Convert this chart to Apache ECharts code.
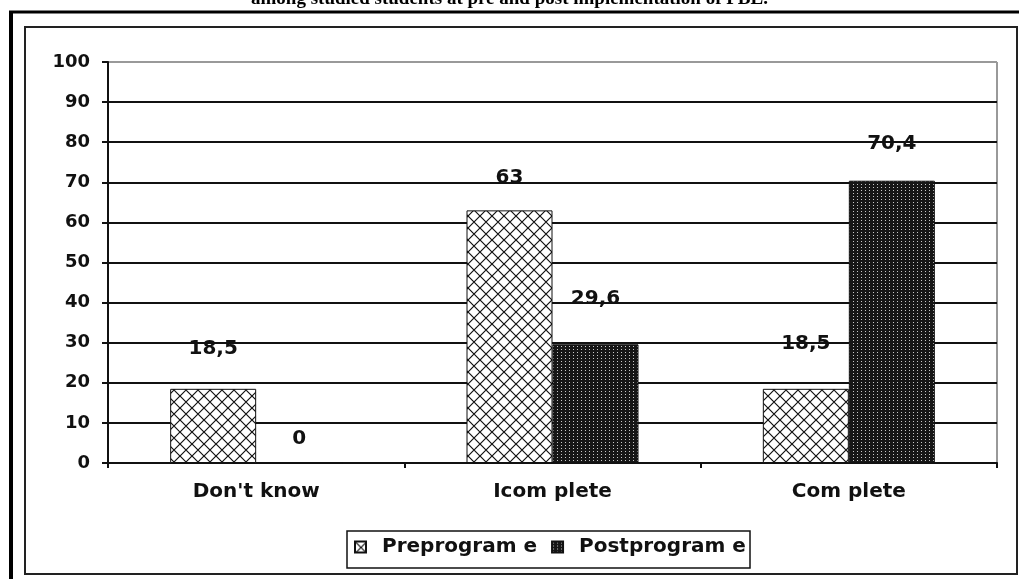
<!DOCTYPE html>
<html>
<head>
<meta charset="utf-8">
<script src="https://cdn.jsdelivr.net/npm/echarts@6/dist/echarts.min.js"></script>
<style>
html,body{margin:0;padding:0;background:#fff;}
#chart{width:1019px;height:579px;}
</style>
</head>
<body>
<div id="chart"></div>
<script>
// ---- data ----
const titleText = "among studied students at pre and post implementation of PBL.";
const categories = ["Don't know", "Icom plete", "Com plete"];
const seriesNames = ["Preprogram e", "Postprogram e"];
const preValues = [18.5, 63, 18.5];
const postValues = [0, 29.6, 70.4];
const yTicks = [0, 10, 20, 30, 40, 50, 60, 70, 80, 90, 100];

// ---- label offsets (style only) ----
const preLabelGap = [30, 23, 35];
const postLabelGap = [14, 36, 27];

function crossPattern() {
  const c = document.createElement('canvas');
  c.width = 12; c.height = 12;
  const g = c.getContext('2d');
  g.fillStyle = '#fff'; g.fillRect(0, 0, 12, 12);
  g.strokeStyle = '#111'; g.lineWidth = 1.2;
  g.beginPath();
  g.moveTo(0, 0); g.lineTo(12, 12);
  g.moveTo(12, 0); g.lineTo(0, 12);
  g.stroke();
  return c;
}
function dotPattern() {
  const c = document.createElement('canvas');
  c.width = 4; c.height = 3;
  const g = c.getContext('2d');
  g.fillStyle = '#161616'; g.fillRect(0, 0, 4, 3);
  g.fillStyle = '#c8c8c8'; g.fillRect(1, 1, 1, 1);
  return c;
}

const FONT = '"DejaVu Sans", sans-serif';
const fmt = p => String(p.value).replace('.', ',');

const chart = echarts.init(document.getElementById('chart'), null, {renderer: 'canvas'});
const splitColors = yTicks.map((t, i) => i === yTicks.length - 1 ? '#999' : '#111');

chart.setOption({
  animation: false,
  backgroundColor: '#fff',
  grid: {left: 108, right: 22, top: 62, bottom: 116, containLabel: false},
  xAxis: {
    type: 'category',
    data: categories,
    axisLine: {show: true, lineStyle: {color: '#111', width: 2}},
    axisTick: {show: true, length: 5, lineStyle: {color: '#111', width: 2}},
    axisLabel: {color: '#111', fontFamily: FONT, fontWeight: 'bold', fontSize: 20, margin: 19}
  },
  yAxis: {
    type: 'value',
    min: yTicks[0], max: yTicks[yTicks.length - 1], interval: 10,
    axisLine: {show: true, lineStyle: {color: '#111', width: 2}},
    axisTick: {show: true, length: 6, lineStyle: {color: '#111', width: 2}},
    axisLabel: {color: '#111', fontFamily: FONT, fontWeight: 'bold', fontSize: 18, margin: 18},
    splitLine: {show: true, lineStyle: {color: splitColors, width: 2}}
  },
  legend: {
    left: 354, top: 537,
    itemWidth: 11, itemHeight: 11, itemGap: 14,
    padding: 0,
    icon: 'rect',
    textStyle: {color: '#111', fontFamily: FONT, fontWeight: 'bold', fontSize: 20, padding: [0, 0, 0, 11]},
    data: seriesNames
  },
  series: [
    {
      name: seriesNames[0], type: 'bar', barWidth: 86, barGap: '0%',
      itemStyle: {color: {image: crossPattern(), repeat: 'repeat'}, borderColor: '#111', borderWidth: 1},
      data: preValues.map((v, i) => ({value: v, label: {distance: preLabelGap[i]}})),
      label: {show: true, position: 'top', color: '#111', fontFamily: FONT, fontWeight: 'bold', fontSize: 20, formatter: fmt}
    },
    {
      name: seriesNames[1], type: 'bar', barWidth: 86, barGap: '0%',
      itemStyle: {color: {image: dotPattern(), repeat: 'repeat'}, borderColor: '#111', borderWidth: 1},
      data: postValues.map((v, i) => ({value: v, label: {distance: postLabelGap[i]}})),
      label: {show: true, position: 'top', color: '#111', fontFamily: FONT, fontWeight: 'bold', fontSize: 20, formatter: fmt}
    }
  ],
  graphic: [
    {type: 'text', left: 'center', top: -10, style: {text: titleText, font: 'bold 19px "Liberation Serif", serif', fill: '#000'}},
    {type: 'rect', shape: {x: 0, y: 0, width: 1019, height: 10}, style: {fill: 'rgba(0,0,0,0)'}},
    {type: 'line', shape: {x1: 11, y1: 11, x2: 11, y2: 579}, style: {stroke: '#000', lineWidth: 4}},
    {type: 'line', shape: {x1: 9, y1: 12, x2: 1019, y2: 12}, style: {stroke: '#000', lineWidth: 3}},
    {type: 'rect', shape: {x: 25, y: 27, width: 992, height: 547}, style: {fill: 'none', stroke: '#222', lineWidth: 2}},
    {type: 'line', shape: {x1: 997, y1: 62, x2: 997, y2: 463}, style: {stroke: '#999', lineWidth: 2}},
    {type: 'rect', shape: {x: 347, y: 531, width: 403, height: 37}, style: {fill: 'none', stroke: '#111', lineWidth: 1.5}}
  ]
});
</script>
</body>
</html>
